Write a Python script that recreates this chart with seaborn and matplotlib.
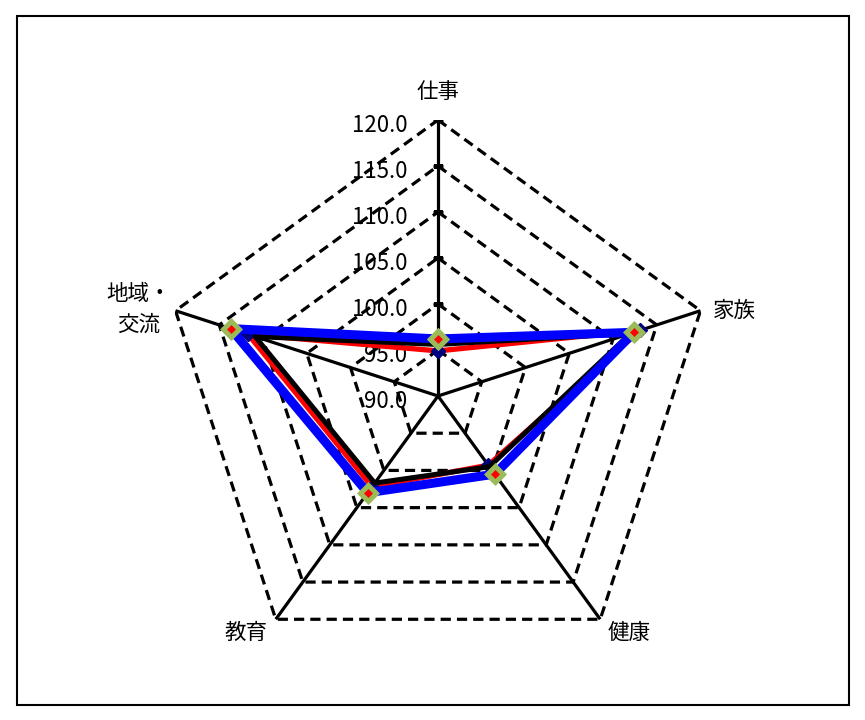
import numpy as np
import matplotlib
matplotlib.use("Agg")
import matplotlib.pyplot as plt
import seaborn as sns
from matplotlib.patches import Rectangle

# =========================
# data
# =========================
categories = ["仕事", "家族", "健康", "教育", "地域・\n交流"]
levels = [95.0, 100.0, 105.0, 110.0, 115.0, 120.0]
tick_labels = ["90.0", "95.0", "100.0", "105.0", "110.0", "115.0", "120.0"]
r_min, r_max = 90.0, 120.0

black_vals = [95.6, 112.0, 99.5, 101.7, 110.9]
red_vals = [94.9, 113.1, 99.3, 102.2, 111.7]
blue_vals = [96.2, 112.4, 100.5, 103.0, 113.7]

# =========================
# style
# =========================
sns.set_theme(style="white")
plt.rcParams["font.family"] = ["Noto Sans CJK JP", "DejaVu Sans"]

fig = plt.figure(figsize=(8.65, 7.2), dpi=100)
fig.patch.set_facecolor("white")

# outer frame of the chart area
fig.patches.append(Rectangle((17 / 865, 15 / 720), 832 / 865, 689 / 720,
                             transform=fig.transFigure, fill=False,
                             edgecolor="black", linewidth=1.5))

ax = fig.add_axes([0.18728, 0.06667, 0.63815, 0.76667], projection="polar")
ax.set_theta_offset(np.pi / 2)
ax.set_theta_direction(-1)
ax.patch.set_alpha(0)
ax.grid(False)
ax.spines["polar"].set_visible(False)

n = len(categories)
theta = np.linspace(0, 2 * np.pi, n, endpoint=False)
theta_closed = np.append(theta, 2 * np.pi)


def closed(vals):
    return np.append(vals, vals[0])


# pentagon grid (dashed)
for lv in levels:
    ax.plot(theta_closed, [lv] * (n + 1), color="black", linewidth=2.3,
            linestyle=(0, (3.2, 1.9)), zorder=1)

# spokes
for t in theta:
    ax.plot([t, t], [r_min, r_max], color="black", linewidth=2.3, zorder=1)

# small tick marks on the 仕事 axis
ax.plot([0] * len(levels), levels, linestyle="none", marker="_",
        markersize=7, markeredgewidth=2.3, color="black", zorder=2)

# value labels
tick_vals = [r_min] + levels
for v, lab in zip(tick_vals, tick_labels):
    ax.annotate(lab, xy=(0, v), xytext=(-22, -4), textcoords="offset points",
                ha="right", va="center", fontsize=16, color="black",
                annotation_clip=False, zorder=3)

# =========================
# series
# =========================
sns.lineplot(x=theta_closed, y=closed(red_vals), sort=False, estimator=None,
             color="#FF0000", linewidth=3.8, marker="D", markersize=7,
             markerfacecolor="#000080", markeredgecolor="#000080",
             markeredgewidth=1, ax=ax, zorder=4)
sns.lineplot(x=theta_closed, y=closed(black_vals), sort=False, estimator=None,
             color="black", linewidth=3.6, ax=ax, zorder=5)
sns.lineplot(x=theta_closed, y=closed(blue_vals), sort=False, estimator=None,
             color="#0000FF", linewidth=6.5, marker="D", markersize=8.6,
             markerfacecolor="#FF0000", markeredgecolor="#9BBB59",
             markeredgewidth=3.6, ax=ax, zorder=6)

ax.set_xticks([])
ax.set_yticks([])
ax.set_xlabel("")
ax.set_ylabel("")
ax.set_ylim(r_min, r_max)

# category labels
label_offsets = [(0, 20, "center"), (9, 0, "left"), (5, -10, "left"),
                 (-6, -10, "right"), (-3, 1, "right")]
for t, cat, (dx, dy, ha) in zip(theta, categories, label_offsets):
    ax.annotate(cat, xy=(t, r_max), xytext=(dx, dy), textcoords="offset points",
                ha=ha, va="center", multialignment="center", linespacing=1.5,
                fontsize=15.5, color="black", annotation_clip=False)

fig.savefig("out.png", dpi=100, facecolor="white")
